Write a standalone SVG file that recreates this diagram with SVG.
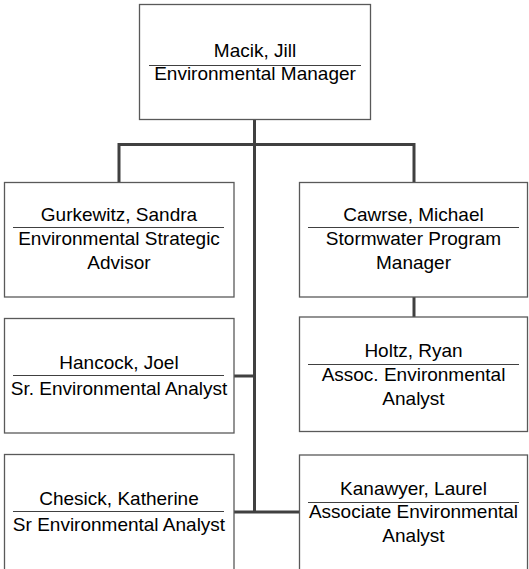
<svg xmlns="http://www.w3.org/2000/svg" width="529" height="569" viewBox="0 0 529 569">
<style>
.box{fill:#fff;stroke:#595959;stroke-width:1.3}
.sep{stroke:#404040;stroke-width:1}
.t{font-family:"Liberation Sans",Arial,sans-serif;font-size:19px;fill:#000;text-anchor:middle}
.c{fill:none;stroke:#404040;stroke-width:3}
</style>
<rect width="529" height="569" fill="#fff"/>
<g id="connectors">
<path class="c" d="M254.5 119V512"/>
<path class="c" d="M119 182V144.5H414V182"/>
<path class="c" d="M414 297V317"/>
<path class="c" d="M234 376H254.5"/>
<path class="c" d="M234 512H299"/>
</g>
<g id="macik">
<rect class="box" x="139.5" y="4.5" width="231" height="115"/>
<text class="t" x="255" y="57">Macik, Jill</text>
<line class="sep" x1="149" y1="65.5" x2="361" y2="65.5"/>
<text class="t" x="255" y="80">Environmental Manager</text>
</g>
<g id="gurkewitz">
<rect class="box" x="4.5" y="182.5" width="229.5" height="114.5"/>
<text class="t" x="119" y="221">Gurkewitz, Sandra</text>
<line class="sep" x1="13" y1="227.5" x2="224" y2="227.5"/>
<text class="t" x="119" y="245">Environmental Strategic</text>
<text class="t" x="119" y="269">Advisor</text>
</g>
<g id="cawrse">
<rect class="box" x="299.5" y="182.5" width="228" height="114.5"/>
<text class="t" x="413.5" y="221">Cawrse, Michael</text>
<line class="sep" x1="308" y1="227.5" x2="519" y2="227.5"/>
<text class="t" x="413.5" y="245">Stormwater Program</text>
<text class="t" x="413.5" y="269">Manager</text>
</g>
<g id="hancock">
<rect class="box" x="4.5" y="318.5" width="229.5" height="114.5"/>
<text class="t" x="119" y="369">Hancock, Joel</text>
<line class="sep" x1="13" y1="375.5" x2="224" y2="375.5"/>
<text class="t" x="119" y="395">Sr. Environmental Analyst</text>
</g>
<g id="holtz">
<rect class="box" x="299.5" y="317" width="228" height="114.5"/>
<text class="t" x="413.5" y="357">Holtz, Ryan</text>
<line class="sep" x1="308" y1="364.5" x2="519" y2="364.5"/>
<text class="t" x="413.5" y="381">Assoc. Environmental</text>
<text class="t" x="413.5" y="405">Analyst</text>
</g>
<g id="chesick">
<rect class="box" x="4.5" y="454.5" width="229.5" height="125"/>
<text class="t" x="119" y="505">Chesick, Katherine</text>
<line class="sep" x1="13" y1="511.5" x2="224" y2="511.5"/>
<text class="t" x="119" y="531">Sr Environmental Analyst</text>
</g>
<g id="kanawyer">
<rect class="box" x="299.5" y="455" width="228" height="125"/>
<text class="t" x="413.5" y="495">Kanawyer, Laurel</text>
<line class="sep" x1="308" y1="502.5" x2="519" y2="502.5"/>
<text class="t" x="413.5" y="518">Associate Environmental</text>
<text class="t" x="413.5" y="542">Analyst</text>
</g>
</svg>
